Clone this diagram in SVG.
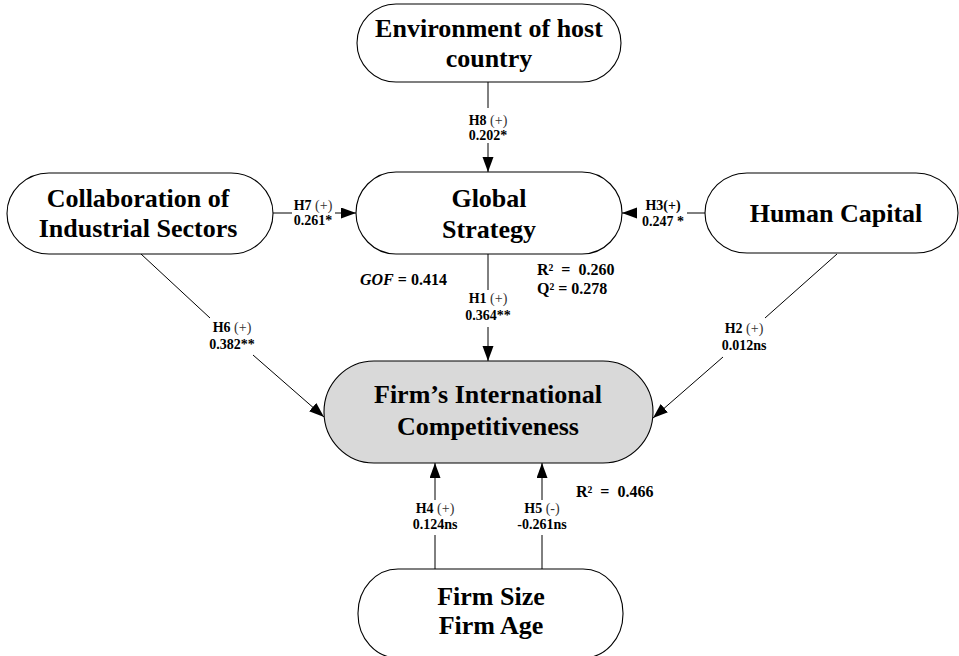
<svg xmlns="http://www.w3.org/2000/svg" width="959" height="656" viewBox="0 0 959 656">
<style>
.node{fill:#fff;stroke:#000;stroke-width:1.1}
.main{fill:#d9d9d9;stroke:#000;stroke-width:1.1}
.nt{font-family:"Liberation Serif","Times New Roman",serif;font-weight:bold;font-size:26px;text-anchor:middle;fill:#000}
.lb{font-family:"Liberation Serif","Times New Roman",serif;font-weight:bold;font-size:14px;text-anchor:middle;fill:#000}
.pm{font-weight:normal;fill:#333}
.st{font-family:"Liberation Serif","Times New Roman",serif;font-weight:bold;font-size:16px;fill:#000}
.ln{stroke:#000;stroke-width:1;fill:none}
</style>
<defs>
<marker id="ah" markerUnits="userSpaceOnUse" markerWidth="16" markerHeight="12" refX="15" refY="5.5" orient="auto">
<path d="M0,0 L15,5.5 L0,11 z" fill="#000"/>
</marker>
</defs>
<g id="connectors">
<line class="ln" x1="488" y1="82" x2="488" y2="108"/>
<line class="ln" x1="488" y1="143" x2="488" y2="172" marker-end="url(#ah)"/>
<line class="ln" x1="273" y1="213" x2="292" y2="213"/>
<line class="ln" x1="335" y1="213" x2="356" y2="213" marker-end="url(#ah)"/>
<line class="ln" x1="705" y1="213" x2="687" y2="213"/>
<line class="ln" x1="636" y1="213" x2="622" y2="213" marker-end="url(#ah)"/>
<line class="ln" x1="488" y1="254" x2="488" y2="290"/>
<line class="ln" x1="488" y1="327" x2="488" y2="361" marker-end="url(#ah)"/>
<line class="ln" x1="141" y1="254" x2="210" y2="318"/>
<line class="ln" x1="253" y1="355" x2="324" y2="417" marker-end="url(#ah)"/>
<line class="ln" x1="837" y1="254" x2="765" y2="318"/>
<line class="ln" x1="723" y1="357" x2="653" y2="418" marker-end="url(#ah)"/>
<line class="ln" x1="435" y1="569" x2="435" y2="535"/>
<line class="ln" x1="435" y1="500" x2="435" y2="463" marker-end="url(#ah)"/>
<line class="ln" x1="542" y1="569" x2="542" y2="535"/>
<line class="ln" x1="542" y1="500" x2="542" y2="463" marker-end="url(#ah)"/>
<text class="lb" x="488" y="125">H8 <tspan class="pm">(+)</tspan></text>
<text class="lb" x="488" y="140">0.202*</text>
<text class="lb" x="313" y="210">H7 <tspan class="pm">(+)</tspan></text>
<text class="lb" x="313" y="225">0.261*</text>
<text class="lb" x="663" y="210">H3(+)</text>
<text class="lb" x="663" y="226">0.247 *</text>
<text class="lb" x="488" y="303">H1 <tspan class="pm">(+)</tspan></text>
<text class="lb" x="488" y="320">0.364**</text>
<text class="lb" x="232" y="332">H6 <tspan class="pm">(+)</tspan></text>
<text class="lb" x="232" y="349">0.382**</text>
<text class="lb" x="744" y="333">H2 <tspan class="pm">(+)</tspan></text>
<text class="lb" x="744" y="350">0.012ns</text>
<text class="lb" x="435" y="513">H4 <tspan class="pm">(+)</tspan></text>
<text class="lb" x="435" y="529">0.124ns</text>
<text class="lb" x="542" y="513">H5 <tspan class="pm">(-)</tspan></text>
<text class="lb" x="542" y="529">-0.261ns</text>
</g>
<g id="stats">
<text class="st" x="360" y="285"><tspan font-style="italic">GOF</tspan> = 0.414</text>
<text class="st" x="537" y="275">R²&#160; =&#160; 0.260</text>
<text class="st" x="537" y="294">Q² = 0.278</text>
<text class="st" x="576" y="497">R²&#160; =&#160; 0.466</text>
</g>
<g id="env">
<rect class="node" x="357" y="4" width="264" height="78" rx="39" ry="39"/>
<text class="nt" x="489" y="37">Environment of host</text>
<text class="nt" x="489" y="67">country</text>
</g>
<g id="global">
<rect class="node" x="356" y="172" width="266" height="82" rx="40" ry="41"/>
<text class="nt" x="489" y="207">Global</text>
<text class="nt" x="489" y="238">Strategy</text>
</g>
<g id="collab">
<rect class="node" x="7" y="173" width="266" height="81" rx="42" ry="40.5"/>
<text class="nt" x="138" y="207">Collaboration of</text>
<text class="nt" x="138" y="237">Industrial Sectors</text>
</g>
<g id="human">
<rect class="node" x="705" y="173" width="253" height="80" rx="42" ry="40"/>
<text class="nt" x="836" y="222">Human Capital</text>
</g>
<g id="fic">
<rect class="main" x="324" y="361" width="329" height="102" rx="50" ry="51"/>
<text class="nt" x="488" y="403">Firm’s International</text>
<text class="nt" x="488" y="435">Competitiveness</text>
</g>
<g id="firm">
<rect class="node" x="358" y="569" width="265" height="89" rx="40" ry="44"/>
<text class="nt" x="491" y="605">Firm Size</text>
<text class="nt" x="491" y="634">Firm Age</text>
</g>
</svg>
